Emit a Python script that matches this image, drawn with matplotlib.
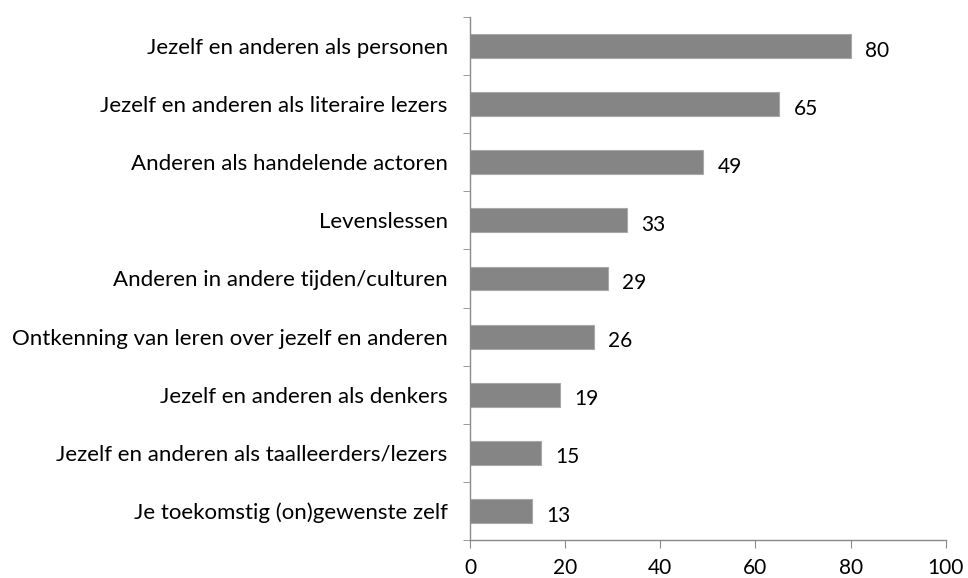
import matplotlib.pyplot as plt
import numpy as np

categories = [
    'Jezelf en anderen als personen',
    'Jezelf en anderen als literaire lezers',
    'Anderen als handelende actoren',
    'Levenslessen',
    'Anderen in andere tijden/culturen',
    'Ontkenning van leren over jezelf en anderen',
    'Jezelf en anderen als denkers',
    'Jezelf en anderen als taalleerders/lezers',
    'Je toekomstig (on)gewenste zelf',
]
values = [80, 65, 49, 33, 29, 26, 19, 15, 13]
x_ticks = [0, 20, 40, 60, 80, 100]

plt.rcParams['font.family'] = ['Lato', 'DejaVu Sans']

fig = plt.figure(figsize=(9.68, 5.78), dpi=100)
ax = fig.add_axes([0.4855, 0.0657, 0.4915, 0.905])

y = np.arange(len(categories))[::-1]
ax.barh(y, values, height=0.41, color='#858585', edgecolor='#a8a8a8', linewidth=0.8)

for yi, v in zip(y, values):
    ax.text(v + 3, yi - 0.08, str(v), va='center', ha='left', fontsize=15, color='black')

ax.set_xlim(0, 100)
ax.set_ylim(-0.5, len(categories) - 0.5)
ax.set_xticks(x_ticks)
ax.set_yticks(y)
ax.set_yticklabels(categories, fontsize=16)
ax.set_yticks(np.arange(-0.5, len(categories), 1.0), minor=True)

for s in ['top', 'right']:
    ax.spines[s].set_visible(False)
for s in ['left', 'bottom']:
    ax.spines[s].set_color('#8a8a8a')
    ax.spines[s].set_linewidth(1.0)

ax.tick_params(axis='y', which='major', length=0, pad=16)
ax.tick_params(axis='y', which='minor', length=5, color='#8a8a8a')
ax.tick_params(axis='x', which='major', length=6, pad=7, color='#8a8a8a', labelsize=15)

plt.savefig('out.png', dpi=100)
